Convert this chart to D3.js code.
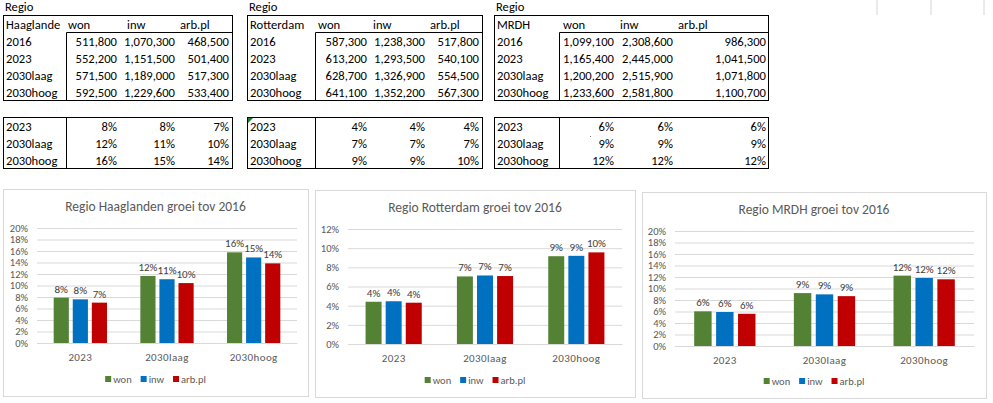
<!DOCTYPE html>
<html><head><meta charset="utf-8">
<script src="https://cdn.jsdelivr.net/npm/d3@7"></script>
<style>html,body{margin:0;padding:0;background:#fff;} svg{display:block;}</style>
</head><body>
<svg id="c" width="993" height="403"></svg>
<script>
// ---------- data ----------
const columns = ["won", "inw", "arb.pl"];
const years = ["2016", "2023", "2030laag", "2030hoog"];
const categories = ["2023", "2030laag", "2030hoog"];

const hgTable = [[511800,1070300,468500],[552200,1151500,501400],[571500,1189000,517300],[592500,1229600,533400]];
const rdTable = [[587300,1238300,517800],[613200,1293500,540100],[628700,1326900,554500],[641100,1352200,567300]];
const mrTable = [[1099100,2308600,986300],[1165400,2445000,1041500],[1200200,2515900,1071800],[1233600,2581800,1100700]];

// growth vs 2016, per category (2023, 2030laag, 2030hoog)
const hgWon = [0.0789, 0.1166, 0.1577];
const hgInw = [0.0759, 0.1109, 0.1488];
const hgArb = [0.0702, 0.1042, 0.1385];
const rdWon = [0.0441, 0.0705, 0.0916];
const rdInw = [0.0446, 0.0715, 0.0920];
const rdArb = [0.0431, 0.0709, 0.0956];
const mrWon = [0.0603, 0.0920, 0.1224];
const mrInw = [0.0591, 0.0898, 0.1183];
const mrArb = [0.0560, 0.0867, 0.1160];

const hgTicks = [0,0.02,0.04,0.06,0.08,0.10,0.12,0.14,0.16,0.18,0.20];
const rdTicks = [0,0.02,0.04,0.06,0.08,0.10,0.12];
const mrTicks = [0,0.02,0.04,0.06,0.08,0.10,0.12,0.14,0.16,0.18,0.20];

// ---------- style ----------
const FONT = "Carlito, Calibri, Lato, sans-serif";
const colors = {"won": "#548235", "inw": "#0070C0", "arb.pl": "#C00000"};
const svg = d3.select("#c").style("font-family", FONT);
svg.append("rect").attr("width", 993).attr("height", 403).attr("fill", "#fff");

const fmtN = d3.format(",");
const fmtP = d3.format(".0%");

// faint sheet gridlines top-right
[877, 931, 984].forEach(x => svg.append("line").attr("x1", x).attr("x2", x).attr("y1", 0).attr("y2", 15)
  .attr("stroke", "#d6d6d6").attr("stroke-width", 1));

// ---------- tables ----------
function drawTables(cfg, name, table, growth) {
  const g = svg.append("g");
  const fs = 12.6;
  const T = (x, y, s, anchor) => g.append("text").attr("x", x).attr("y", y).attr("font-size", fs)
    .attr("fill", "#000").attr("text-anchor", anchor || "start").text(s);
  T(cfg.left + 2, 11, "Regio");
  // top table
  g.append("rect").attr("x", cfg.left + 0.5).attr("y", 15.5).attr("width", cfg.right - cfg.left).attr("height", 85)
    .attr("fill", "none").attr("stroke", "#000");
  g.append("line").attr("x1", cfg.inner + 0.5).attr("x2", cfg.right + 0.5).attr("y1", 32.5).attr("y2", 32.5).attr("stroke", "#000");
  g.append("line").attr("x1", cfg.inner + 0.5).attr("x2", cfg.inner + 0.5).attr("y1", 32.5).attr("y2", 100.5).attr("stroke", "#000");
  T(cfg.left + 3, 29, name);
  columns.forEach((c, i) => T(cfg.head[i], 29, c));
  years.forEach((y, r) => {
    const by = 46 + r * 17;
    T(cfg.left + 3, by, y);
    table[r].forEach((v, i) => T(cfg.vals[i], by, fmtN(v), "end"));
  });
  // growth table
  g.append("rect").attr("x", cfg.left + 0.5).attr("y", 117.5).attr("width", cfg.right - cfg.left).attr("height", 51)
    .attr("fill", "none").attr("stroke", "#000");
  g.append("line").attr("x1", cfg.inner + 0.5).attr("x2", cfg.inner + 0.5).attr("y1", 117.5).attr("y2", 168.5).attr("stroke", "#000");
  categories.forEach((cat, r) => {
    const by = 131 + r * 17;
    T(cfg.left + 3, by, cat);
    growth.forEach((s, i) => T(cfg.vals[i], by, fmtP(s[r]), "end"));
  });
  return g;
}

drawTables({left: 3, right: 232, inner: 66, head: [68, 127, 180], vals: [117, 175, 229]},
  "Haaglande", hgTable, [hgWon, hgInw, hgArb]);
const rg = drawTables({left: 247, right: 482, inner: 315, head: [318, 373, 430], vals: [367, 425, 479]},
  "Rotterdam", rdTable, [rdWon, rdInw, rdArb]);
rg.append("path").attr("d", "M248,118 L253,118 L248,123 Z").attr("fill", "#1e7b34");
drawTables({left: 494, right: 768, inner: 559, head: [563, 620, 678], vals: [614, 673, 766]},
  "MRDH", mrTable, [mrWon, mrInw, mrArb]);
svg.append("rect").attr("x", 590).attr("y", 136).attr("width", 1).attr("height", 1).attr("fill", "#777");

// ---------- charts ----------
function drawChart(cfg, title, series, ticks) {
  const g = svg.append("g");
  g.append("rect").attr("x", cfg.fx + 0.5).attr("y", cfg.fy + 0.5).attr("width", cfg.fw).attr("height", cfg.fh)
    .attr("fill", "#fff").attr("stroke", "#d9d9d9");
  const cx = cfg.fx + cfg.fw / 2;
  g.append("text").attr("x", cx).attr("y", cfg.fy + 22).attr("text-anchor", "middle")
    .attr("font-size", 13.5).attr("fill", "#595959").text(title);

  const x0 = d3.scaleBand().domain(categories).range([cfg.px0, cfg.px1]).padding(0);
  const y = d3.scaleLinear().domain([0, ticks[ticks.length - 1]]).range([cfg.py1, cfg.py0]);
  const band = x0.bandwidth();
  const groupW = band * 0.615;
  const x1 = d3.scaleBand().domain(columns).range([-groupW / 2, groupW / 2]).paddingInner(0.2045).paddingOuter(0);

  const yAxis = d3.axisLeft(y).tickValues(ticks).tickFormat(d3.format(".0%")).tickSize(-(cfg.px1 - cfg.px0)).tickPadding(9);
  const ag = g.append("g").attr("transform", `translate(${cfg.px0},0)`).call(yAxis);
  ag.select(".domain").remove();
  ag.selectAll(".tick line").attr("stroke", "#d9d9d9");
  ag.selectAll(".tick text").attr("fill", "#595959").attr("font-size", 10.5).attr("font-family", FONT);

  const xAxis = d3.axisBottom(x0).tickSize(0).tickPadding(10);
  const xg = g.append("g").attr("transform", `translate(0,${cfg.py1})`).call(xAxis);
  xg.select(".domain").attr("stroke", "#d9d9d9");
  xg.selectAll(".tick text").attr("fill", "#595959").attr("font-size", 11).attr("font-family", FONT)
    .attr("letter-spacing", "0.4px");

  const data = [];
  categories.forEach((c, i) => columns.forEach((s, j) => data.push({c, s, v: series[j][i]})));
  g.selectAll("rect.bar").data(data).join("rect").attr("class", "bar")
    .attr("x", d => x0(d.c) + band / 2 + x1(d.s))
    .attr("width", x1.bandwidth())
    .attr("y", d => y(d.v))
    .attr("height", d => y(0) - y(d.v))
    .attr("fill", d => colors[d.s]);
  g.selectAll("text.lbl").data(data).join("text").attr("class", "lbl")
    .attr("x", d => x0(d.c) + band / 2 + x1(d.s) + x1.bandwidth() / 2)
    .attr("y", d => y(d.v) - 5)
    .attr("text-anchor", "middle").attr("font-size", 11).attr("fill", "#404040")
    .text(d => fmtP(d.v));

  // legend
  const lg = g.append("g");
  const ly = cfg.fy + cfg.fh - 17;
  let off = 0;
  columns.forEach((s, i) => {
    const it = lg.append("g");
    it.append("rect").attr("x", off).attr("y", ly - 3).attr("width", 6).attr("height", 6).attr("fill", colors[s]);
    const t = it.append("text").attr("x", off + 8).attr("y", ly + 4).attr("font-size", 10.5).attr("fill", "#595959").text(s);
    off += 8 + t.node().getComputedTextLength() + 9;
  });
  const total = off - 9;
  lg.attr("transform", `translate(${cx - total / 2},0)`);
}

drawChart({fx: 3, fy: 189, fw: 305, fh: 207, px0: 37, px1: 297, py0: 228, py1: 343},
  "Regio Haaglanden groei tov 2016", [hgWon, hgInw, hgArb], hgTicks);
drawChart({fx: 315, fy: 190, fw: 320, fh: 207, px0: 348, px1: 622, py0: 229, py1: 344},
  "Regio Rotterdam groei tov 2016", [rdWon, rdInw, rdArb], rdTicks);
drawChart({fx: 642, fy: 192, fw: 344, fh: 206, px0: 675, px1: 974, py0: 231, py1: 346},
  "Regio MRDH groei tov 2016", [mrWon, mrInw, mrArb], mrTicks);
</script>
</body></html>
